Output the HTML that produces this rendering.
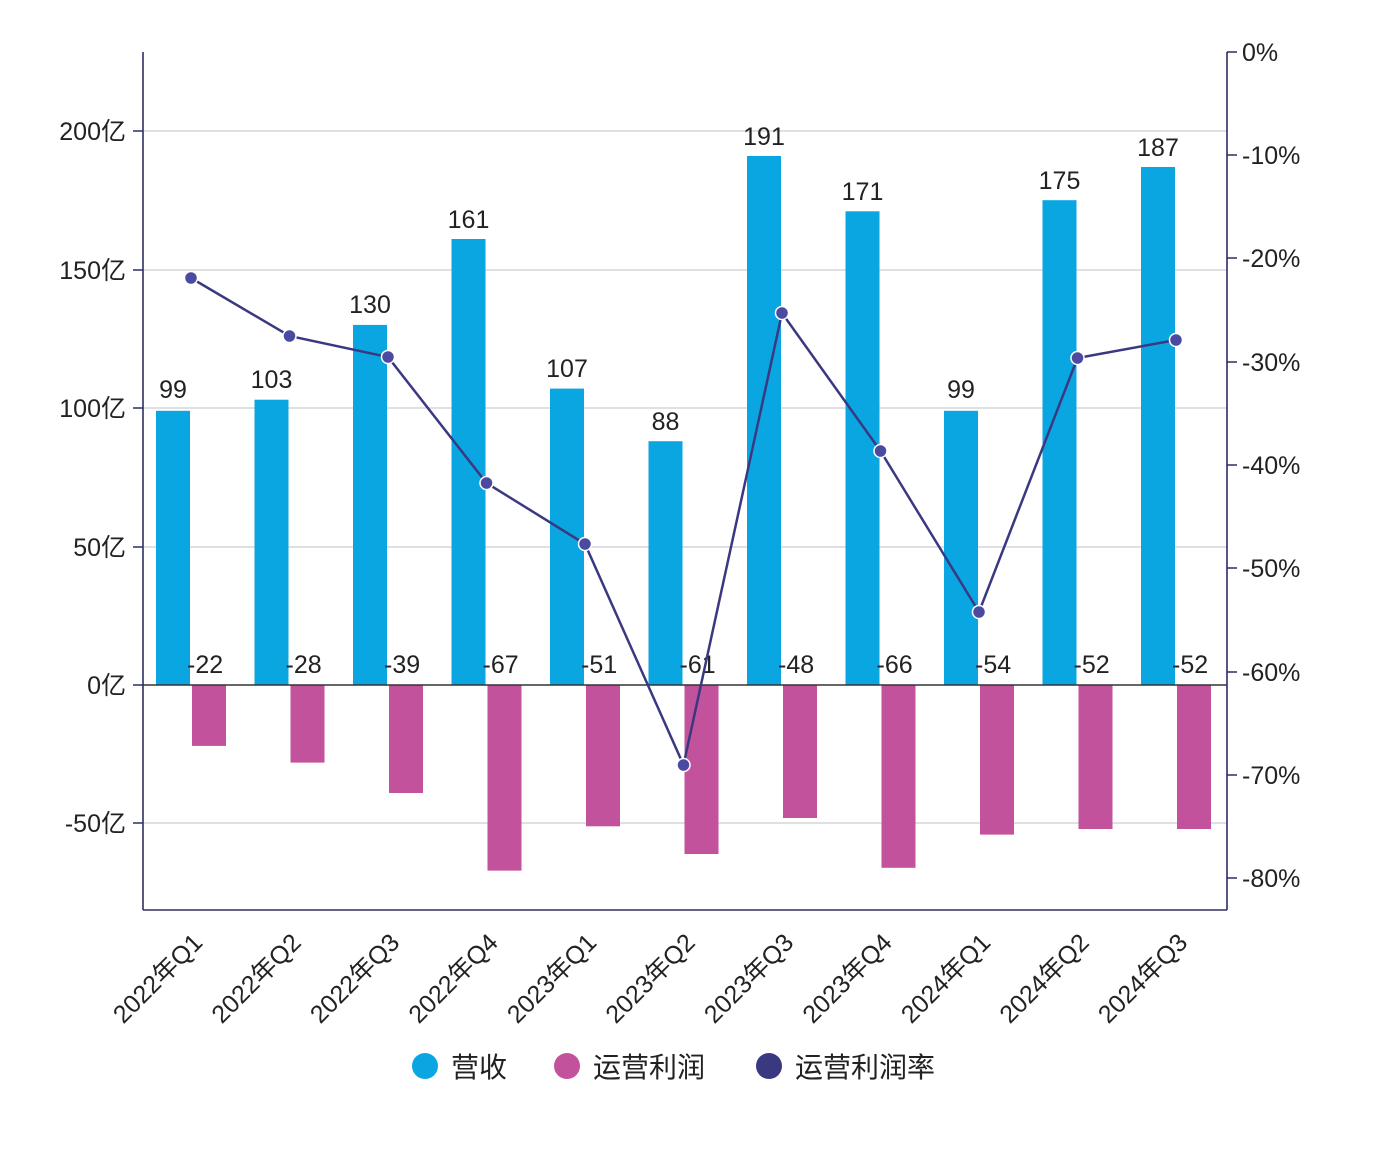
<!DOCTYPE html>
<html><head><meta charset="utf-8"><style>
html,body{margin:0;padding:0;background:#fff;}
svg text{font-family:"Liberation Sans","Noto Sans CJK SC",sans-serif;fill:#222;}
</style></head><body>
<svg width="1380" height="1144" viewBox="0 0 1380 1144" xmlns="http://www.w3.org/2000/svg">
<rect width="1380" height="1144" fill="#fff"/>
<g stroke="#c9cdd6" stroke-width="1.2">
<line x1="143" y1="131" x2="1227" y2="131"/><line x1="143" y1="270" x2="1227" y2="270"/>
<line x1="143" y1="408" x2="1227" y2="408"/><line x1="143" y1="547" x2="1227" y2="547"/>
<line x1="143" y1="823" x2="1227" y2="823"/>
</g>
<g fill="#0aa6e1">
<rect x="156" y="410.8" width="34" height="274.2"/>
<rect x="254.5" y="399.7" width="34" height="285.3"/>
<rect x="353" y="324.9" width="34" height="360.1"/>
<rect x="451.5" y="239" width="34" height="446"/>
<rect x="550" y="388.6" width="34" height="296.4"/>
<rect x="648.5" y="441.2" width="34" height="243.8"/>
<rect x="747" y="156" width="34" height="529"/>
<rect x="845.5" y="211.3" width="34" height="473.7"/>
<rect x="944" y="410.8" width="34" height="274.2"/>
<rect x="1042.5" y="200.2" width="34" height="484.8"/>
<rect x="1141" y="167" width="34" height="518"/>
</g>
<g fill="#c2529b">
<rect x="192" y="685" width="34" height="60.9"/>
<rect x="290.5" y="685" width="34" height="77.6"/>
<rect x="389" y="685" width="34" height="108"/>
<rect x="487.5" y="685" width="34" height="185.6"/>
<rect x="586" y="685" width="34" height="141.3"/>
<rect x="684.5" y="685" width="34" height="169"/>
<rect x="783" y="685" width="34" height="133"/>
<rect x="881.5" y="685" width="34" height="182.8"/>
<rect x="980" y="685" width="34" height="149.6"/>
<rect x="1078.5" y="685" width="34" height="144"/>
<rect x="1177" y="685" width="34" height="144"/>
</g>
<line x1="143" y1="685" x2="1227" y2="685" stroke="#333" stroke-width="1.5"/>
<g stroke="#2f2d66" stroke-width="1.6" fill="none">
<line x1="143" y1="52" x2="143" y2="910"/><line x1="1227" y1="52" x2="1227" y2="910"/>
<line x1="143" y1="910" x2="1227" y2="910"/>
<path d="M133 131H143M133 270H143M133 408H143M133 547H143M133 685H143M133 823H143"/>
<path d="M1227 52H1237M1227 155H1237M1227 258H1237M1227 362H1237M1227 465H1237M1227 568H1237M1227 672H1237M1227 775H1237M1227 878H1237"/>
</g>
<g font-size="25" text-anchor="end">
<text x="126" y="140">200亿</text><text x="126" y="279">150亿</text><text x="126" y="417">100亿</text>
<text x="126" y="556">50亿</text><text x="126" y="694">0亿</text><text x="126" y="832">-50亿</text>
</g>
<g font-size="25">
<text x="1242" y="61">0%</text><text x="1242" y="164">-10%</text><text x="1242" y="267">-20%</text>
<text x="1242" y="371">-30%</text><text x="1242" y="474">-40%</text><text x="1242" y="577">-50%</text>
<text x="1242" y="681">-60%</text><text x="1242" y="784">-70%</text><text x="1242" y="887">-80%</text>
</g>
<g font-size="25" text-anchor="middle">
<text x="173" y="398">99</text><text x="271.5" y="388">103</text><text x="370" y="313">130</text>
<text x="468.5" y="228">161</text><text x="567" y="377">107</text><text x="665.5" y="430">88</text>
<text x="764" y="145">191</text><text x="862.5" y="200">171</text><text x="961" y="398">99</text>
<text x="1059.5" y="189">175</text><text x="1158" y="156">187</text>
</g>
<g font-size="25">
<text x="187" y="673">-22</text><text x="285.5" y="673">-28</text><text x="384" y="673">-39</text>
<text x="482.5" y="673">-67</text><text x="581" y="673">-51</text><text x="679.5" y="673">-61</text>
<text x="778" y="673">-48</text><text x="876.5" y="673">-66</text><text x="975" y="673">-54</text>
<text x="1073.5" y="673">-52</text><text x="1172" y="673">-52</text>
</g>
<polyline points="191,278 289.5,336 388,357 486.5,483 585,544 683.5,765 782,313 880.5,451 979,612 1077.5,358 1176,340" fill="none" stroke="#3b3882" stroke-width="2.5"/>
<g fill="#4a4aa0" stroke="#fff" stroke-width="1.5">
<circle cx="191" cy="278" r="6.5"/><circle cx="289.5" cy="336" r="6.5"/><circle cx="388" cy="357" r="6.5"/>
<circle cx="486.5" cy="483" r="6.5"/><circle cx="585" cy="544" r="6.5"/><circle cx="683.5" cy="765" r="6.5"/>
<circle cx="782" cy="313" r="6.5"/><circle cx="880.5" cy="451" r="6.5"/><circle cx="979" cy="612" r="6.5"/>
<circle cx="1077.5" cy="358" r="6.5"/><circle cx="1176" cy="340" r="6.5"/>
</g>
<g font-size="25" text-anchor="end">
<text transform="translate(204,944) rotate(-45)">2022年Q1</text>
<text transform="translate(302.5,944) rotate(-45)">2022年Q2</text>
<text transform="translate(401,944) rotate(-45)">2022年Q3</text>
<text transform="translate(499.5,944) rotate(-45)">2022年Q4</text>
<text transform="translate(598,944) rotate(-45)">2023年Q1</text>
<text transform="translate(696.5,944) rotate(-45)">2023年Q2</text>
<text transform="translate(795,944) rotate(-45)">2023年Q3</text>
<text transform="translate(893.5,944) rotate(-45)">2023年Q4</text>
<text transform="translate(992,944) rotate(-45)">2024年Q1</text>
<text transform="translate(1090.5,944) rotate(-45)">2024年Q2</text>
<text transform="translate(1189,944) rotate(-45)">2024年Q3</text>
</g>
<circle cx="425" cy="1066" r="13" fill="#0aa6e1"/>
<text x="451" y="1077" font-size="28">营收</text>
<circle cx="567" cy="1066" r="13" fill="#c2529b"/>
<text x="593" y="1077" font-size="28">运营利润</text>
<circle cx="769" cy="1066" r="13" fill="#3b3882"/>
<text x="795" y="1077" font-size="28">运营利润率</text>
</svg>
</body></html>
